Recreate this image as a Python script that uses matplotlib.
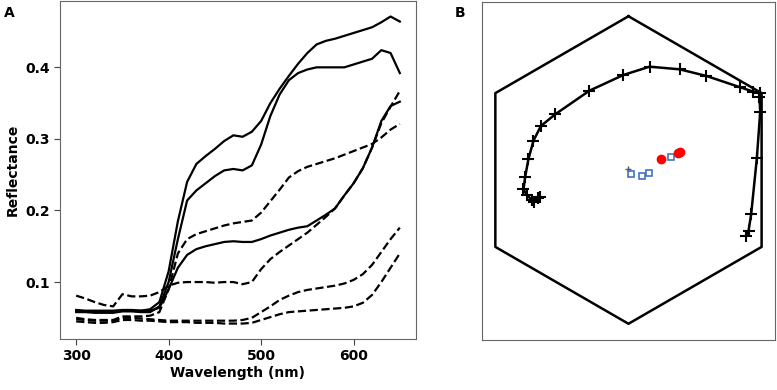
import numpy as np
import matplotlib
matplotlib.use('Agg')
import matplotlib.pyplot as plt

# ---- Panel A: espectros de reflectancia ----
wavelength = [300, 310, 320, 330, 340, 350, 360, 370, 380, 390,
              400, 410, 420, 430, 440, 450, 460, 470, 480, 490,
              500, 510, 520, 530, 540, 550, 560, 570, 580, 590,
              600, 610, 620, 630, 640, 650]

solid_1 = [0.060, 0.059, 0.058, 0.058, 0.058, 0.060, 0.060, 0.060, 0.062, 0.072,
           0.115, 0.185, 0.240, 0.265, 0.276, 0.286, 0.297, 0.305, 0.303, 0.310,
           0.325, 0.350, 0.370, 0.388, 0.405, 0.420, 0.432, 0.437, 0.440, 0.444,
           0.448, 0.452, 0.456, 0.463, 0.471, 0.464]
solid_2 = [0.058, 0.058, 0.057, 0.057, 0.057, 0.059, 0.059, 0.058, 0.058, 0.066,
           0.100, 0.160, 0.214, 0.228, 0.238, 0.248, 0.256, 0.258, 0.256, 0.263,
           0.292, 0.332, 0.362, 0.382, 0.392, 0.397, 0.400, 0.400, 0.400, 0.400,
           0.404, 0.408, 0.412, 0.424, 0.420, 0.392]
solid_3 = [0.061, 0.060, 0.060, 0.060, 0.060, 0.061, 0.061, 0.060, 0.060, 0.064,
           0.090, 0.120, 0.138, 0.146, 0.150, 0.153, 0.156, 0.157, 0.156, 0.156,
           0.160, 0.165, 0.169, 0.173, 0.176, 0.178, 0.186, 0.194, 0.203, 0.221,
           0.238, 0.259, 0.288, 0.325, 0.346, 0.352]
dashed_1 = [0.081, 0.077, 0.072, 0.068, 0.066, 0.083, 0.080, 0.080, 0.081, 0.086,
            0.095, 0.099, 0.100, 0.100, 0.100, 0.099, 0.100, 0.100, 0.097, 0.100,
            0.118, 0.132, 0.142, 0.151, 0.160, 0.169, 0.180, 0.191, 0.203, 0.221,
            0.238, 0.259, 0.288, 0.322, 0.345, 0.367]
dashed_2 = [0.050, 0.048, 0.047, 0.047, 0.047, 0.052, 0.052, 0.052, 0.053, 0.058,
            0.090, 0.140, 0.160, 0.167, 0.171, 0.175, 0.179, 0.182, 0.184, 0.186,
            0.197, 0.213, 0.229, 0.246, 0.255, 0.261, 0.265, 0.269, 0.273, 0.278,
            0.283, 0.288, 0.293, 0.302, 0.313, 0.321]
dashed_3 = [0.048, 0.047, 0.046, 0.046, 0.046, 0.050, 0.050, 0.049, 0.048, 0.047,
            0.046, 0.046, 0.046, 0.046, 0.046, 0.046, 0.046, 0.046, 0.047, 0.050,
            0.058, 0.066, 0.075, 0.081, 0.086, 0.089, 0.091, 0.093, 0.095, 0.098,
            0.103, 0.111, 0.124, 0.142, 0.160, 0.176]
dashed_4 = [0.045, 0.044, 0.043, 0.043, 0.044, 0.047, 0.047, 0.046, 0.046, 0.045,
            0.044, 0.044, 0.044, 0.043, 0.043, 0.043, 0.042, 0.042, 0.042, 0.043,
            0.047, 0.051, 0.055, 0.058, 0.059, 0.060, 0.061, 0.062, 0.063, 0.064,
            0.066, 0.071, 0.082, 0.100, 0.120, 0.140]

# ---- Panel B: hexagono de color ----
hex_angles = [90, 150, 210, 270, 330, 30, 90]

locus_x = [0.766, 0.781, 0.798, 0.835, 0.857, 0.852, 0.857, 0.813, 0.727, 0.506,
           0.332, 0.137, -0.033, -0.254, -0.477, -0.570, -0.618, -0.651, -0.672,
           -0.683, -0.661, -0.628, -0.614, -0.586, -0.574]
locus_y = [-0.429, -0.395, -0.288, 0.076, 0.379, 0.477, 0.499, 0.509, 0.538, 0.612,
           0.655, 0.672, 0.618, 0.516, 0.362, 0.286, 0.191, 0.070, -0.044,
           -0.126, -0.163, -0.195, -0.206, -0.184, -0.174]

square_x = [0.018, 0.087, 0.133, 0.278]
square_y = [-0.026, -0.037, -0.017, 0.087]
circle_x = [0.211, 0.325, 0.332]
circle_y = [0.070, 0.108, 0.119]
center_x = [-0.004]
center_y = [0.005]

fig = plt.figure(figsize=(7.77, 3.9), dpi=100)

# Panel A
ax1 = fig.add_axes([0.0772, 0.131, 0.4582, 0.866])
for s in [solid_1, solid_2, solid_3]:
    ax1.plot(wavelength, s, color='black', lw=1.6, ls='-')
for d in [dashed_1, dashed_2, dashed_3, dashed_4]:
    ax1.plot(wavelength, d, color='black', lw=1.6, ls='--')
ax1.set_xticks([300, 400, 500, 600])
ax1.set_yticks([0.1, 0.2, 0.3, 0.4])
ax1.set_xlabel('Wavelength (nm)', fontsize=10, fontweight='bold', labelpad=2)
ax1.set_ylabel('Reflectance', fontsize=10, fontweight='bold', labelpad=4)
for lab in ax1.get_xticklabels() + ax1.get_yticklabels():
    lab.set_fontweight('bold')
    lab.set_fontsize(10)
for sp in ax1.spines.values():
    sp.set_color('#666666')
ax1.tick_params(color='#444444', length=4)
fig.text(0.005, 0.985, 'A', fontsize=10, fontweight='bold', va='top')

# Panel B
ax2 = fig.add_axes([0.6203, 0.128, 0.3771, 0.867])
ang = np.radians(hex_angles)
ax2.plot(np.cos(ang), np.sin(ang), color='black', lw=1.8)
ax2.plot(locus_x, locus_y, color='black', lw=1.8, marker='+', ms=8, mew=1.5)
ax2.plot(center_x, center_y, ls='none', marker='+', ms=5, mew=1, color='#555555')
ax2.plot(square_x, square_y, ls='none', marker='s', ms=5, mfc='none',
         mec='#4472C4', mew=1.2)
ax2.plot(circle_x, circle_y, ls='none', marker='o', ms=6, color='red')
ax2.set_xlim(-0.953, 0.953)
ax2.set_ylim(-1.106, 1.093)
ax2.set_xticks([])
ax2.set_yticks([])
for sp in ax2.spines.values():
    sp.set_color('#666666')
fig.text(0.585, 0.985, 'B', fontsize=10, fontweight='bold', va='top')

fig.savefig('out.png', dpi=100)
